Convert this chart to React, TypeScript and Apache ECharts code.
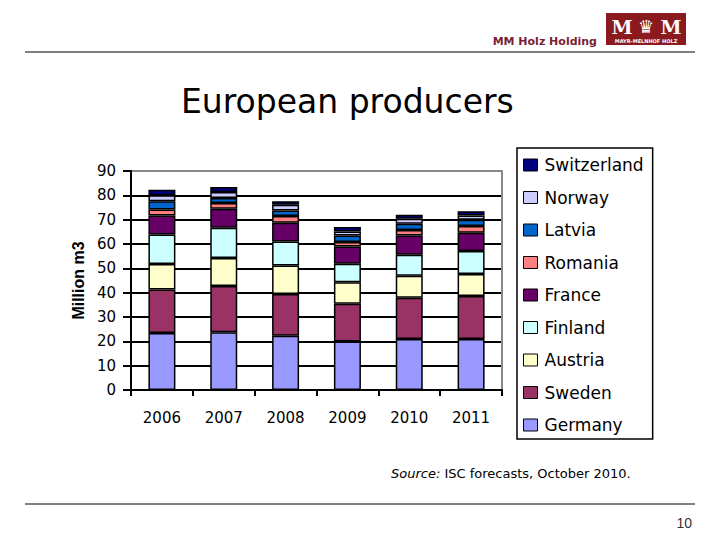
import React, { useEffect, useRef } from "react";
import * as echarts from "echarts";

const years = ["2006", "2007", "2008", "2009", "2010", "2011"];
const germany = [23.4, 23.7, 22.3, 19.9, 21.0, 21.0];
const sweden = [17.9, 19.0, 17.2, 15.5, 16.9, 17.6];
const austria = [10.5, 11.5, 11.7, 8.9, 9.1, 9.1];
const finland = [12.1, 12.5, 9.8, 7.6, 8.6, 9.4];
const france = [7.8, 7.8, 7.7, 7.1, 7.9, 7.5];
const romania = [2.5, 2.3, 2.8, 1.8, 2.3, 2.8];
const latvia = [3.4, 2.1, 2.3, 2.7, 2.5, 2.6];
const norway = [2.4, 2.5, 2.3, 1.6, 2.1, 1.7];
const switzerland = [2.3, 2.0, 1.5, 1.9, 1.6, 1.8];

const seriesDefs = [
  { name: "Germany", data: germany, color: "#9999FF" },
  { name: "Sweden", data: sweden, color: "#993366" },
  { name: "Austria", data: austria, color: "#FFFFCC" },
  { name: "Finland", data: finland, color: "#CCFFFF" },
  { name: "France", data: france, color: "#660066" },
  { name: "Romania", data: romania, color: "#FF8080" },
  { name: "Latvia", data: latvia, color: "#0066CC" },
  { name: "Norway", data: norway, color: "#CCCCFF" },
  { name: "Switzerland", data: switzerland, color: "#000080" },
];

const legendOrder = seriesDefs.map((s) => s.name).reverse();

export default function App() {
  const ref = useRef<HTMLDivElement>(null);
  useEffect(() => {
    if (!ref.current) return;
    const chart = echarts.init(ref.current, null, { renderer: "svg" });
    const gridColors = ["#000", "#000", "#000", "#000", "#000", "#000", "#000", "#000", "#000", "#888"];
    chart.setOption({
      animation: false,
      backgroundColor: "#fff",
      grid: { left: 131, right: 218, top: 171, bottom: 150, containLabel: false },
      legend: {
        orient: "vertical",
        left: 517,
        top: 148,
        data: legendOrder,
        itemWidth: 14,
        itemHeight: 12,
        itemGap: 12.5,
        padding: [7, 9, 4, 6],
        borderColor: "#000",
        borderWidth: 1.5,
        icon: "rect",
        itemStyle: { borderColor: "#000", borderWidth: 1 },
        textStyle: {
          fontFamily: "DejaVu Sans",
          fontSize: 17,
          lineHeight: 20,
          color: "#000",
          padding: [0, 0, 0, 2],
        },
      },
      xAxis: {
        type: "category",
        data: years,
        axisLine: { lineStyle: { color: "#000", width: 2 } },
        axisTick: { show: true, length: 6, lineStyle: { color: "#000", width: 2 } },
        axisLabel: { fontFamily: "DejaVu Sans", fontSize: 15, color: "#000", margin: 20 },
      },
      yAxis: [
        {
          type: "value",
          min: 0,
          max: 90,
          interval: 10,
          name: "Million m3",
          nameLocation: "middle",
          nameRotate: 90,
          nameGap: 44,
          nameTextStyle: {
            fontFamily: "Liberation Sans",
            fontWeight: "bold",
            fontSize: 16,
            color: "#000",
          },
          axisLine: { show: true, lineStyle: { color: "#000", width: 2 } },
          axisTick: { show: true, length: 8, lineStyle: { color: "#000", width: 2 } },
          axisLabel: { fontFamily: "DejaVu Sans", fontSize: 15, color: "#000", margin: 15 },
          splitLine: { show: true, lineStyle: { color: gridColors, width: 2 } },
        },
        {
          type: "value",
          min: 0,
          max: 90,
          interval: 10,
          position: "right",
          axisLine: { show: true, lineStyle: { color: "#888", width: 2 } },
          axisTick: { show: false },
          axisLabel: { show: false },
          splitLine: { show: false },
        },
      ],
      series: seriesDefs.map((s) => ({
        name: s.name,
        type: "bar",
        stack: "total",
        barWidth: 27,
        data: s.data,
        itemStyle: { color: s.color, borderColor: "#000", borderWidth: 1.5 },
      })),
      graphic: [
        {
          type: "line",
          shape: { x1: 25, y1: 52, x2: 695, y2: 52 },
          style: { stroke: "#000", lineWidth: 1 },
        },
        {
          type: "line",
          shape: { x1: 25, y1: 504, x2: 695, y2: 504 },
          style: { stroke: "#000", lineWidth: 1 },
        },
        {
          type: "text",
          x: 597,
          y: 41,
          style: {
            text: "MM Holz Holding",
            fontFamily: "DejaVu Sans",
            fontWeight: "bold",
            fontSize: 11,
            fill: "#7a1f35",
            align: "right",
            verticalAlign: "middle",
          },
        },
        {
          type: "group",
          children: [
            {
              type: "rect",
              shape: { x: 606, y: 13, width: 80, height: 32 },
              style: { fill: "#8a1a1e" },
            },
            {
              type: "text",
              x: 622,
              y: 27,
              style: {
                text: "M",
                fontFamily: "DejaVu Serif",
                fontWeight: "bold",
                fontSize: 19,
                fill: "#fff",
                align: "center",
                verticalAlign: "middle",
              },
            },
            {
              type: "text",
              x: 646,
              y: 26,
              style: {
                text: "♛",
                fontFamily: "DejaVu Sans",
                fontSize: 18,
                fill: "#fff",
                align: "center",
                verticalAlign: "middle",
              },
            },
            {
              type: "text",
              x: 671,
              y: 27,
              style: {
                text: "M",
                fontFamily: "DejaVu Serif",
                fontWeight: "bold",
                fontSize: 19,
                fill: "#fff",
                align: "center",
                verticalAlign: "middle",
              },
            },
            {
              type: "text",
              x: 646,
              y: 41,
              style: {
                text: "MAYR-MELNHOF HOLZ",
                fontFamily: "DejaVu Sans",
                fontWeight: "bold",
                fontSize: 5,
                fill: "#fff",
                align: "center",
                verticalAlign: "middle",
              },
            },
          ],
        },
        {
          type: "text",
          x: 181,
          y: 101,
          style: {
            text: "European producers",
            fontFamily: "DejaVu Sans",
            fontSize: 33,
            fill: "#000",
            align: "left",
            verticalAlign: "middle",
          },
        },
        {
          type: "text",
          x: 391,
          y: 473,
          style: {
            text: "{i|Source:} ISC forecasts, October 2010.",
            fontFamily: "DejaVu Sans",
            fontSize: 13,
            fill: "#000",
            align: "left",
            verticalAlign: "middle",
            rich: {
              i: { fontFamily: "DejaVu Sans", fontStyle: "italic", fontSize: 13, fill: "#000" },
            },
          },
        },
        {
          type: "text",
          x: 692,
          y: 523,
          style: {
            text: "10",
            fontFamily: "Liberation Sans",
            fontSize: 14,
            fill: "#333",
            align: "right",
            verticalAlign: "middle",
          },
        },
      ],
    });
    return () => chart.dispose();
  }, []);
  return (
    <div
      ref={ref}
      style={{ position: "fixed", left: 0, top: 0, width: 720, height: 540, background: "#fff" }}
    />
  );
}
